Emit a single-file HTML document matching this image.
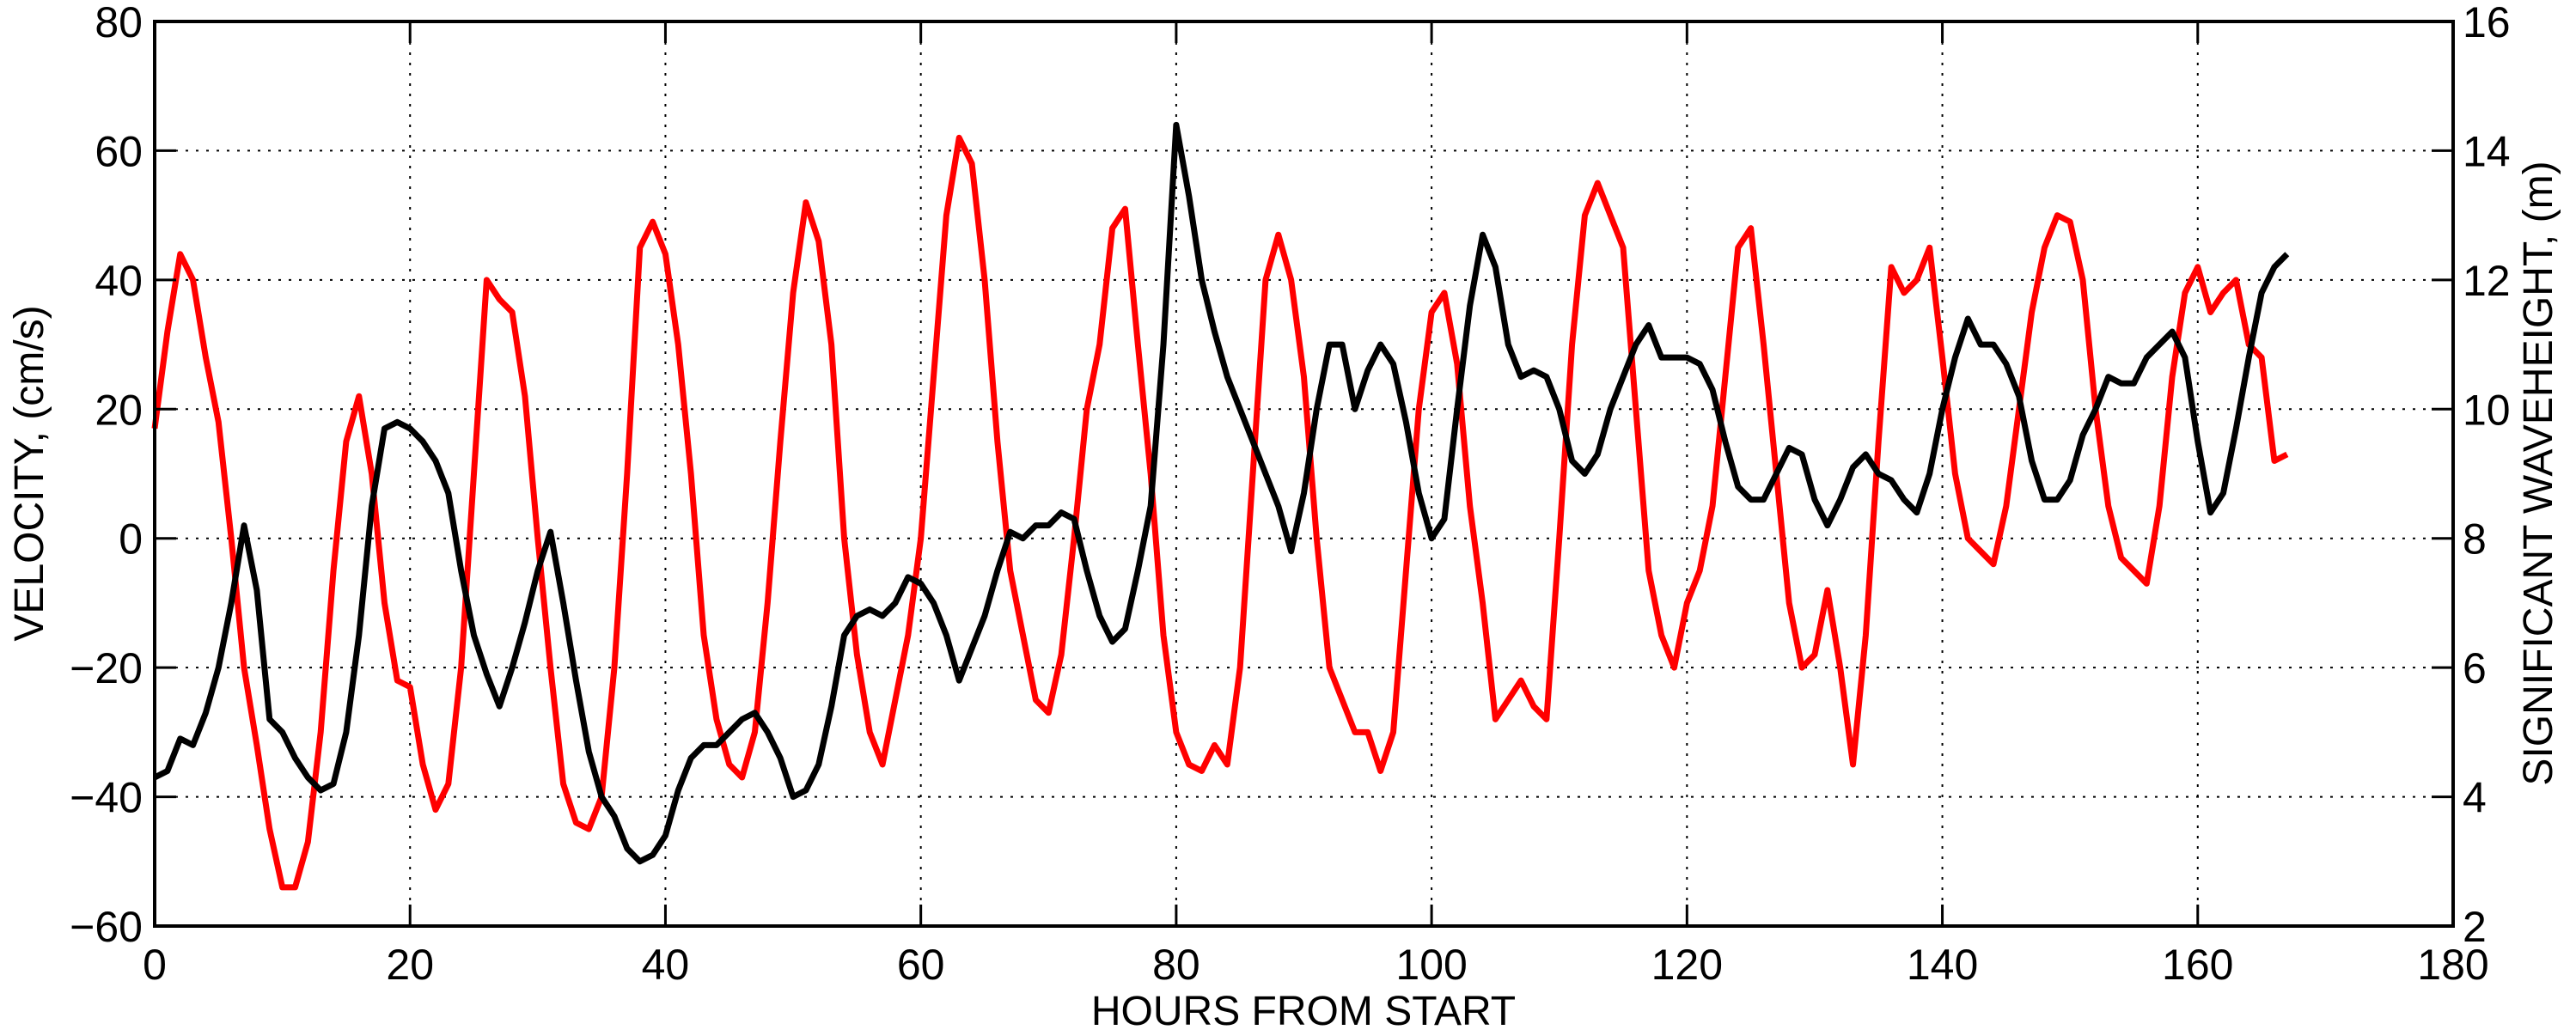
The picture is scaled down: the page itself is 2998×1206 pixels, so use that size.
<!DOCTYPE html>
<html><head><meta charset="utf-8"><style>
html,body{margin:0;padding:0;background:#fff;}
svg{display:block;font-family:"Liberation Sans",Arial,sans-serif;}
</style></head><body>
<svg id="chart" width="2998" height="1206" viewBox="0 0 2998 1206" xmlns="http://www.w3.org/2000/svg">
<g id="grid"></g>
<g id="series"></g>
<g id="axes"></g>
<text x="0" y="0" font-size="48" text-anchor="middle" transform="translate(50,551) rotate(-90)">VELOCITY, (cm/s)</text>
<text x="0" y="0" font-size="48" text-anchor="middle" transform="translate(2970,551) rotate(-90)">SIGNIFICANT WAVEHEIGHT, (m)</text>
<text x="1517" y="1193" font-size="48" text-anchor="middle">HOURS FROM START</text>
</svg>
<script>
const xTicks=[0,20,40,60,80,100,120,140,160,180];
const yTicks=[-60,-40,-20,0,20,40,60,80];
const y2Ticks=[2,4,6,8,10,12,14,16];
const velocity=[17,32,44,40,28,18,0,-20,-32,-45,-54,-54,-47,-30,-5,15,22,10,-10,-22,-23,-35,-42,-38,-20,10,40,37,35,22,0,-20,-38,-44,-45,-40,-20,10,45,49,44,30,10,-15,-28,-35,-37,-30,-10,15,38,52,46,30,0,-18,-30,-35,-25,-15,0,25,50,62,58,40,15,-5,-15,-25,-27,-18,0,20,30,48,51,30,10,-15,-30,-35,-36,-32,-35,-20,10,40,47,40,25,0,-20,-25,-30,-30,-36,-30,-5,20,35,38,27,5,-10,-28,-25,-22,-26,-28,0,30,50,55,50,45,20,-5,-15,-20,-10,-5,5,25,45,48,30,10,-10,-20,-18,-8,-20,-35,-15,15,42,38,40,45,28,10,0,-2,-4,5,20,35,45,50,49,40,20,5,-3,-5,-7,5,25,38,42,35,38,40,30,28,12,13];
const waveHeight=[4.3,4.4,4.9,4.8,5.3,6.0,7.0,8.2,7.2,5.2,5.0,4.6,4.3,4.1,4.2,5.0,6.5,8.5,9.7,9.8,9.7,9.5,9.2,8.7,7.5,6.5,5.9,5.4,6.0,6.7,7.5,8.1,7.0,5.8,4.7,4.0,3.7,3.2,3.0,3.1,3.4,4.1,4.6,4.8,4.8,5.0,5.2,5.3,5.0,4.6,4.0,4.1,4.5,5.4,6.5,6.8,6.9,6.8,7.0,7.4,7.3,7.0,6.5,5.8,6.3,6.8,7.5,8.1,8.0,8.2,8.2,8.4,8.3,7.5,6.8,6.4,6.6,7.5,8.5,11.0,14.4,13.3,12.0,11.2,10.5,10.0,9.5,9.0,8.5,7.8,8.7,10.0,11.0,11.0,10.0,10.6,11.0,10.7,9.8,8.7,8.0,8.3,10.0,11.6,12.7,12.2,11.0,10.5,10.6,10.5,10.0,9.2,9.0,9.3,10.0,10.5,11.0,11.3,10.8,10.8,10.8,10.7,10.3,9.5,8.8,8.6,8.6,9.0,9.4,9.3,8.6,8.2,8.6,9.1,9.3,9.0,8.9,8.6,8.4,9.0,10.0,10.8,11.4,11.0,11.0,10.7,10.2,9.2,8.6,8.6,8.9,9.6,10.0,10.5,10.4,10.4,10.8,11.0,11.2,10.8,9.5,8.4,8.7,9.7,10.8,11.8,12.2,12.4];

const L=180,R=2855,T=25,B=1078;
const NS='http://www.w3.org/2000/svg';
const xS=v=>L+(v-0)/(180-0)*(R-L);
const yS=v=>B-(v+60)/140*(B-T);
const y2S=v=>B-(v-2)/14*(B-T);
function mk(tag,attrs,parent){const e=document.createElementNS(NS,tag);for(const k in attrs)e.setAttribute(k,attrs[k]);parent.appendChild(e);return e;}
const grid=document.getElementById('grid'),axes=document.getElementById('axes'),ser=document.getElementById('series');
xTicks.forEach(t=>{const x=xS(t);
 if(t>0&&t<180){const g=mk('line',{x1:x,x2:x,y1:T,y2:B,stroke:'#000','stroke-width':2,'stroke-dasharray':'3,9'},grid);
 
 }
 const tk=mk('path',{d:`M${x},${B}v-25M${x},${T}v25`,stroke:'#000','stroke-width':3,fill:'none'},axes);
 
 
 const lb=mk('text',{x:x,y:1140,'font-size':50,'text-anchor':'middle'},axes);lb.textContent=t;
 
 
});
yTicks.forEach(t=>{const y=yS(t);
 if(t>-60&&t<80){const g=mk('line',{x1:L,x2:R,y1:y,y2:y,stroke:'#000','stroke-width':2,'stroke-dasharray':'3,9'},grid);
 
 }
 const tk=mk('path',{d:`M${L},${y}h25`,stroke:'#000','stroke-width':3,fill:'none'},axes);
 
 
 const lb=mk('text',{x:166,y:y+18,'font-size':50,'text-anchor':'end'},axes);lb.textContent=(t<0?'\u2212'+(-t):t);
 
 
});
y2Ticks.forEach(t=>{const y=y2S(t);
 const tk=mk('path',{d:`M${R},${y}h-25`,stroke:'#000','stroke-width':3,fill:'none'},axes);
 
 
 const lb=mk('text',{x:2866,y:y+18,'font-size':50,'text-anchor':'start'},axes);lb.textContent=t;
 
 
});
const fr=mk('rect',{x:L,y:T,width:R-L,height:B-T,fill:'none',stroke:'#000','stroke-width':4},axes);


const rp=mk('polyline',{points:velocity.map((v,i)=>xS(i)+','+yS(v)).join(' '),fill:'none',stroke:'#ff0000','stroke-width':7,'stroke-linejoin':'round'},ser);


const bp=mk('polyline',{points:waveHeight.map((v,i)=>xS(i)+','+y2S(v)).join(' '),fill:'none',stroke:'#000','stroke-width':7,'stroke-linejoin':'round'},ser);


</script>
</body></html>
